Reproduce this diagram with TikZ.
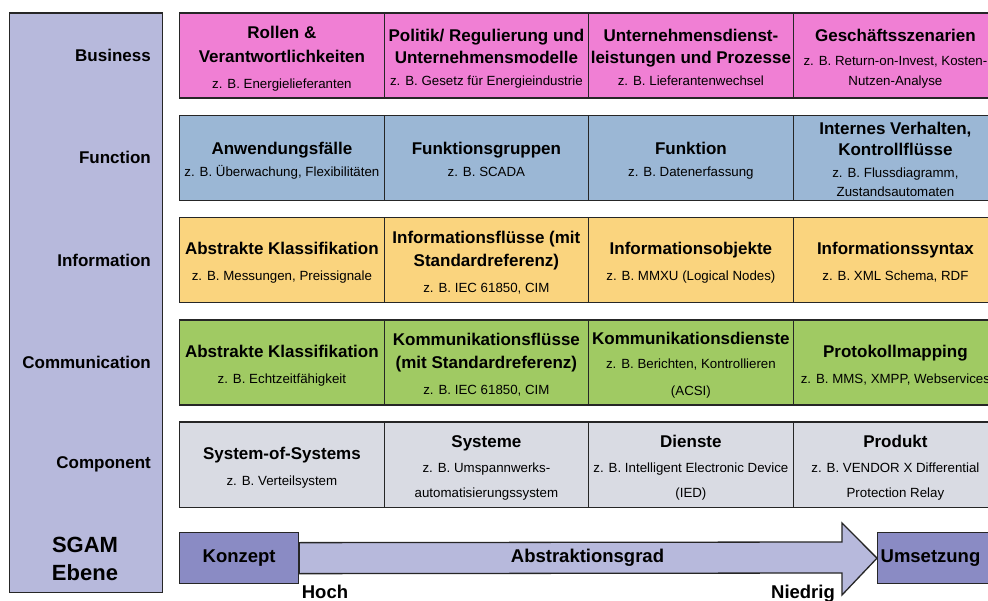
\documentclass[tikz,border=0pt]{standalone}
\usepackage{fontspec}
\setmainfont{Liberation Sans}
\usetikzlibrary{positioning}

\definecolor{colBusiness}{HTML}{F07FD4}
\definecolor{colFunction}{HTML}{9BB7D5}
\definecolor{colInformation}{HTML}{FAD47E}
\definecolor{colCommunication}{HTML}{A0CA63}
\definecolor{colComponent}{HTML}{D9DBE3}
\definecolor{colLavender}{HTML}{B7B9DC}
\definecolor{colStage}{HTML}{8A8BC4}

% Zeilen in den Zellen: Titel fett, Beispiel normal
\newcommand{\chead}[1]{{\fontsize{17}{23}\selectfont\bfseries\rule{0pt}{18.5pt}#1}}
\newcommand{\csub}[1]{{\fontsize{13.3}{23}\selectfont\rule[-3pt]{0pt}{3pt}#1}}

\begin{document}
\begin{tikzpicture}[x=1pt,y=-1pt,
	cell/.style={draw=black!85,line width=1.3pt,minimum width=204.5pt,minimum height=85pt,
		anchor=north west,align=center,inner sep=0pt,font=\fontsize{13.3}{23}\selectfont},
	layer/.style={font=\fontsize{17}{20}\selectfont\bfseries,anchor=east,inner sep=0pt},
	stage/.style={draw=black!85,line width=1.3pt,fill=colStage,minimum height=51pt,
		anchor=north west,inner sep=0pt,font=\fontsize{18.5}{22}\selectfont\bfseries},
	absarrow/.style={draw=black!85,line width=1.3pt,fill=colLavender,line join=miter},
	grade/.style={font=\fontsize{18.5}{22}\selectfont\bfseries,inner sep=0pt}]

	\clip (0,0) rectangle (988,601);
	\fill[white] (0,0) rectangle (988,601);

	% SGAM Ebenen
	\node[draw=black!85,line width=1.3pt,fill=colLavender,minimum width=153.5pt,minimum height=579pt,
		anchor=north west,inner sep=0pt] (ebene) at (8.5, 12.5) {};
	\node[layer] (lbus) at (151, 55.5)   {Business};
	\node[layer] (lfun) at (151, 157.75) {Function};
	\node[layer] (linf) at (151, 260)    {Information};
	\node[layer] (lcom) at (151, 362.25) {Communication};
	\node[layer] (lcmp) at (151, 464.5)  {Component};
	\node[align=center,inner sep=0pt,font=\fontsize{22}{28}\selectfont\bfseries] (sgam) at (85, 559) {SGAM\\Ebene};

	% Business
	\node[cell,fill=colBusiness] (bus1) at (179, 12.5)   {\chead{Rollen \&}\\[1pt]\chead{Verantwortlichkeiten}\\[3pt]\csub{z. B. Energielieferanten}};
	\node[cell,fill=colBusiness] (bus2) at (383.5, 12.5) {\chead{Politik/ Regulierung und}\\[-1pt]\chead{Unternehmensmodelle}\\[-1pt]\csub{z. B. Gesetz für Energieindustrie}};
	\node[cell,fill=colBusiness] (bus3) at (588, 12.5)   {\chead{Unternehmensdienst-}\\[-1pt]\chead{leistungen und Prozesse}\\[-1pt]\csub{z. B. Lieferantenwechsel}};
	\node[cell,fill=colBusiness] (bus4) at (792.5, 12.5) {\chead{Geschäftsszenarien}\\[1pt]\csub{z. B. Return-on-Invest, Kosten-}\\[-3pt]\csub{Nutzen-Analyse}};

	% Function
	\node[cell,fill=colFunction] (fun1) at (179, 114.75)   {\chead{Anwendungsfälle}\\[-1pt]\csub{z. B. Überwachung, Flexibilitäten}};
	\node[cell,fill=colFunction] (fun2) at (383.5, 114.75) {\chead{Funktionsgruppen}\\[-1pt]\csub{z. B. SCADA}};
	\node[cell,fill=colFunction] (fun3) at (588, 114.75)   {\chead{Funktion}\\[-1pt]\csub{z. B. Datenerfassung}};
	\node[cell,fill=colFunction] (fun4) at (792.5, 114.75) {\chead{Internes Verhalten,}\\[-2pt]\chead{Kontrollflüsse}\\[-1pt]\csub{z. B. Flussdiagramm,}\\[-4pt]\csub{Zustandsautomaten}};

	% Information
	\node[cell,fill=colInformation] (inf1) at (179, 217)   {\chead{Abstrakte Klassifikation}\\[3pt]\csub{z. B. Messungen, Preissignale}};
	\node[cell,fill=colInformation] (inf2) at (383.5, 217) {\chead{Informationsflüsse (mit}\\\chead{Standardreferenz)}\\[3pt]\csub{z. B. IEC 61850, CIM}};
	\node[cell,fill=colInformation] (inf3) at (588, 217)   {\chead{Informationsobjekte}\\[3pt]\csub{z. B. MMXU (Logical Nodes)}};
	\node[cell,fill=colInformation] (inf4) at (792.5, 217) {\chead{Informationssyntax}\\[3pt]\csub{z. B. XML Schema, RDF}};

	% Communication
	\node[cell,fill=colCommunication] (com1) at (179, 319.25)   {\chead{Abstrakte Klassifikation}\\[3pt]\csub{z. B. Echtzeitfähigkeit}};
	\node[cell,fill=colCommunication] (com2) at (383.5, 319.25) {\chead{Kommunikationsflüsse}\\\chead{(mit Standardreferenz)}\\[3pt]\csub{z. B. IEC 61850, CIM}};
	\node[cell,fill=colCommunication] (com3) at (588, 319.25)   {\chead{Kommunikationsdienste}\\[1pt]\csub{z. B. Berichten, Kontrollieren}\\[4pt]\csub{(ACSI)}};
	\node[cell,fill=colCommunication] (com4) at (792.5, 319.25) {\chead{Protokollmapping}\\[3pt]\csub{z. B. MMS, XMPP, Webservices}};

	% Component
	\node[cell,fill=colComponent] (cmp1) at (179, 421.5)   {\chead{System-of-Systems}\\[3pt]\csub{z. B. Verteilsystem}};
	\node[cell,fill=colComponent] (cmp2) at (383.5, 421.5) {\chead{Systeme}\\[2pt]\csub{z. B. Umspannwerks-}\\[2pt]\csub{automatisierungssystem}};
	\node[cell,fill=colComponent] (cmp3) at (588, 421.5)   {\chead{Dienste}\\[2pt]\csub{z. B. Intelligent Electronic Device}\\[2pt]\csub{(IED)}};
	\node[cell,fill=colComponent] (cmp4) at (792.5, 421.5) {\chead{Produkt}\\[2pt]\csub{z. B. VENDOR X Differential}\\[2pt]\csub{Protection Relay}};

	% Abstraktionsgrad
	\node[stage,minimum width=119pt] (konzept) at (179, 532) {Konzept};
	\node[stage,inner xsep=3pt,text width=119pt,align=left] (umsetzung) at (877, 532) {Umsetzung};
	\draw[absarrow] ([yshift=15.5pt]konzept.east) -- (842, 542) -- (842, 523) -- (umsetzung.west)
		-- (842, 595) -- (842, 573) -- ([yshift=-15.5pt]konzept.east) -- cycle;
	\node[grade] (grad) at (587.5, 558) {Abstraktionsgrad};
	\node[grade,anchor=base] (hoch) at (325, 598) {Hoch};
	\node[grade,anchor=base] (niedrig) at (803, 598) {Niedrig};

\end{tikzpicture}
\end{document}
